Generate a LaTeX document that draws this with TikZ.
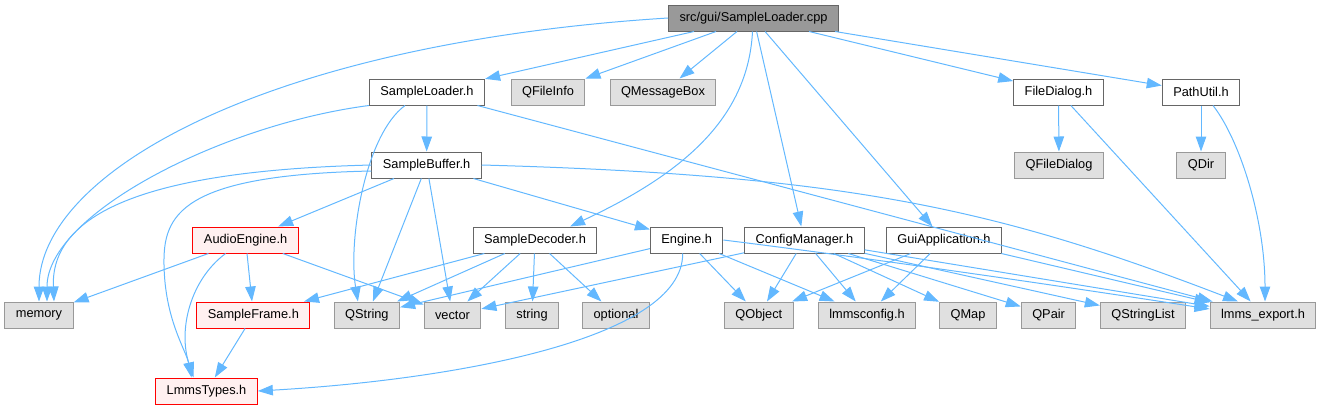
\documentclass[tikz,border=0pt]{standalone}
\usepackage{fontspec}
\setmainfont{Liberation Sans}
\usepackage{xcolor}
\usepackage{tikz}
\usetikzlibrary{arrows.meta}

\definecolor{edgeblue}{HTML}{63B8FF}
\definecolor{lightline}{HTML}{999999}
\definecolor{darkline}{HTML}{666666}
\definecolor{sysfill}{HTML}{E0E0E0}
\definecolor{badfill}{HTML}{FFF0F0}

\begin{document}
\begin{tikzpicture}[x=1pt, y=-1pt,
hdr/.style={draw=darkline, fill=white, line width=1pt, minimum height=26pt, inner xsep=11pt, inner ysep=0pt, font=\fontsize{12.8}{14}\selectfont},
sys/.style={hdr, draw=lightline, fill=sysfill},
bad/.style={hdr, draw=red, fill=badfill},
root/.style={hdr, fill=lightline},
dep/.style={-{Triangle[length=15pt,width=10.5pt]}, draw=edgeblue, line width=1pt}
]
\useasboundingbox (0,0) rectangle (1321,405);

\node[root] (cpp) at (753.5,18) {src/gui/SampleLoader.cpp};
\node[hdr] (loader) at (427,92) {SampleLoader.h};
\node[sys] (finfo) at (548,92) {QFileInfo};
\node[sys] (msgbox) at (663,92) {QMessageBox};
\node[hdr] (fdlg) at (1058.5,92) {FileDialog.h};
\node[hdr] (putil) at (1201,92) {PathUtil.h};
\node[hdr] (buffer) at (426.6,165) {SampleBuffer.h};
\node[sys] (qfdlg) at (1059,165) {QFileDialog};
\node[sys] (qdir) at (1201,165) {QDir};
\node[bad] (audio) at (245.6,240) {AudioEngine.h};
\node[hdr] (decoder) at (535,240) {SampleDecoder.h};
\node[hdr] (engine) at (686.7,240) {Engine.h};
\node[hdr] (config) at (804.4,240) {ConfigManager.h};
\node[hdr] (guiapp) at (944,240) {GuiApplication.h};
\node[sys] (memory) at (39,315) {memory};
\node[bad] (frame) at (253.4,315) {SampleFrame.h};
\node[sys] (qstring) at (366.9,315) {QString};
\node[sys] (vec) at (452.5,315) {vector};
\node[sys] (str) at (532,315) {string};
\node[sys] (opt) at (616,315) {optional};
\node[sys] (qobject) at (758.8,315) {QObject};
\node[sys] (lconfig) at (867,315) {lmmsconfig.h};
\node[sys] (qmap) at (968,315) {QMap};
\node[sys] (qpair) at (1048.6,315) {QPair};
\node[sys] (qslist) at (1143,315) {QStringList};
\node[sys] (lexport) at (1263,315) {lmms\_export.h};
\node[bad] (types) at (206.5,391) {LmmsTypes.h};

% includes of the source file
\draw[dep] (cpp.west) .. controls +(-400,25) and +(0,-130) .. (memory.north);
\draw[dep] (cpp) -- (loader);
\draw[dep] (cpp) -- (finfo);
\draw[dep] (cpp) -- (msgbox);
\draw[dep] ([xshift=-1pt]cpp.south) .. controls (748,120) and (680,175) .. ([xshift=35pt]decoder.north);
\draw[dep] (cpp) -- (config);
\draw[dep] (cpp) -- (guiapp);
\draw[dep] (cpp) -- (fdlg);
\draw[dep] (cpp) -- (putil);

% SampleLoader.h
\draw[dep] (loader.south west) .. controls (220,125) and (47,215) .. ([xshift=8pt]memory.north);
\draw[dep] ([xshift=-22pt]loader.south) .. controls (365,135) and (348,240) .. ([xshift=-9pt]qstring.north);
\draw[dep] (loader) -- (buffer);
\draw[dep] (loader) -- (lexport);

% SampleBuffer.h
\draw[dep] (buffer.west) .. controls (170,170) and (50,205) .. ([xshift=15pt]memory.north);
\draw[dep] ([yshift=-6pt]buffer.west) .. controls (180,175) and (163,215) .. (164,265) .. controls (165,320) and (186,350) .. ([xshift=-15pt]types.north);
\draw[dep] (buffer) -- (audio);
\draw[dep] (buffer) -- ([xshift=6pt]qstring.north);
\draw[dep] (buffer) -- (vec);
\draw[dep] (buffer) -- (engine);
\draw[dep] (buffer.east) .. controls (850,175) and (1000,210) .. ([xshift=-25pt]lexport.north);

% AudioEngine.h and SampleFrame.h
\draw[dep] (audio) -- (memory);
\draw[dep] ([xshift=-20pt]audio.south) .. controls (190,280) and (178,330) .. ([xshift=-13pt]types.north);
\draw[dep] (audio) -- (frame);
\draw[dep] (audio) -- (vec);
\draw[dep] (frame) -- (types);

% SampleDecoder.h
\draw[dep] (decoder) -- (frame);
\draw[dep] (decoder) -- (qstring);
\draw[dep] (decoder) -- (vec);
\draw[dep] (decoder) -- (str);
\draw[dep] (decoder) -- (opt);

% Engine.h
\draw[dep] (engine) -- (qstring);
\draw[dep] ([xshift=-4pt]engine.south) .. controls (683,340) and (450,380) .. (types.east);
\draw[dep] (engine) -- (qobject);
\draw[dep] (engine) -- (lconfig);
\draw[dep] (engine.east) .. controls (900,262) and (1100,292) .. ([yshift=6pt]lexport.west);

% ConfigManager.h
\draw[dep] (config) -- (vec);
\draw[dep] (config) -- (qobject);
\draw[dep] (config) -- (lconfig);
\draw[dep] (config) -- (qmap);
\draw[dep] (config) -- (qpair);
\draw[dep] (config) -- (qslist);
\draw[dep] (config) -- (lexport);

% GuiApplication.h
\draw[dep] (guiapp) -- (qobject);
\draw[dep] (guiapp) -- (lconfig);
\draw[dep] (guiapp) -- (lexport);

% FileDialog.h and PathUtil.h
\draw[dep] (fdlg) -- (qfdlg);
\draw[dep] (fdlg) -- (lexport);
\draw[dep] (putil) -- (qdir);
\draw[dep] ([xshift=12pt]putil.south) .. controls (1240,140) and (1265,220) .. ([xshift=2pt]lexport.north);
\end{tikzpicture}
\end{document}
